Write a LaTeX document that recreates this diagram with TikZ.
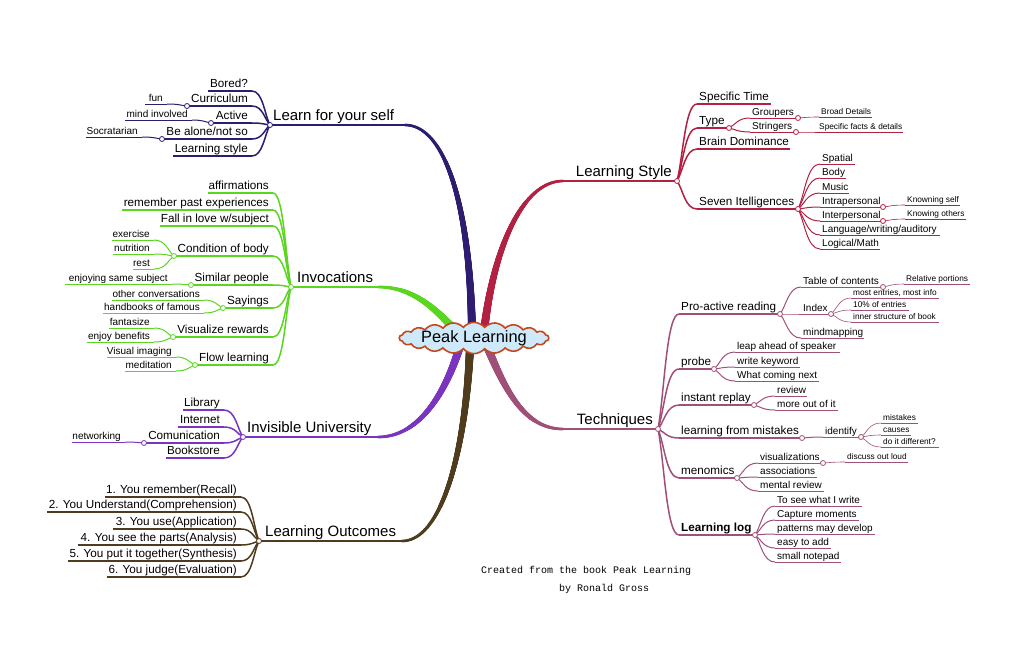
\documentclass[tikz,border=0pt]{standalone}
\usepackage{fontspec}
\setmainfont{Liberation Sans}
\newfontfamily\monofont{Liberation Mono}
\usetikzlibrary{calc,shapes.symbols,decorations.markings}
\definecolor{cNavy}{RGB}{46,28,112}
\definecolor{cGreen}{RGB}{90,214,32}
\definecolor{cPurple}{RGB}{122,52,190}
\definecolor{cBrown}{RGB}{78,60,28}
\definecolor{cCrimson}{RGB}{178,32,66}
\definecolor{cMauve}{RGB}{160,80,120}
\definecolor{cCloud}{RGB}{206,234,250}
\definecolor{cCloudLine}{RGB}{196,72,30}
% left child: name, line style, text style, x start, x end, y, text
\newcommand\KL[7]{\coordinate (#1-s) at (#4,#6);\coordinate (#1-e) at (#5,#6);
  \draw[#2] (#1-s) -- (#1-e);
  \node[#3,anchor=base east,xshift=-4pt] (#1) at (#1-e) {#7};}
% right child
\newcommand\KR[7]{\coordinate (#1-s) at (#4,#6);\coordinate (#1-e) at (#5,#6);
  \draw[#2] (#1-s) -- (#1-e);
  \node[#3,anchor=base west,xshift=2pt] (#1) at (#1-s) {#7};}
\newcommand\HD[2]{\node[hubdot,draw=#2] (#1-dot) at (#1) {};}
\begin{document}
\begin{tikzpicture}[x=1pt,y=-1pt,
  l2/.style={line width=1.5pt},
  l3/.style={line width=1pt},
  l4/.style={line width=0.6pt},
  lm/.style={line width=2.6pt},
  t1/.style={inner sep=0pt,text=black,font=\fontsize{15}{18}\selectfont,yshift=4.5pt},
  t2/.style={inner sep=0pt,text=black,font=\fontsize{11.7}{14}\selectfont,yshift=3.4pt},
  t3/.style={inner sep=0pt,text=black,font=\fontsize{10}{12}\selectfont,yshift=2.8pt},
  t4/.style={inner sep=0pt,text=black,font=\fontsize{8.3}{10}\selectfont,yshift=2.4pt},
  hubdot/.style={circle,fill=white,inner sep=0pt,minimum size=5pt,line width=0.8pt},
  fanto/.style={to path={.. controls ($(\tikztostart)!0.6!(\tikztotarget |- \tikztostart)$) and ($(\tikztotarget)!0.3!(\tikztostart)$) .. (\tikztotarget)}},
  taperline/.style={decorate,decoration={markings,
     mark=between positions 0 and 1 step 0.4pt with {%
       \pgfmathsetmacro\rr{1.3+2.8*(\pgfkeysvalueof{/pgf/decoration/mark info/distance from start})/(\pgfdecoratedpathlength)}%
       \fill[#1] (0,0) circle[radius=\rr pt];}}}
]
\useasboundingbox[fill=white] (0,0) rectangle (1024,662);

% ---------- hubs and main branch ends
\coordinate (LY) at (270,125);  \coordinate (LYe) at (405,125);  \coordinate (LYc) at (472,333);
\coordinate (INV) at (291,287); \coordinate (INVe) at (378,287); \coordinate (INVc) at (458,333);
\coordinate (IU) at (243,437);  \coordinate (IUe) at (378,437);  \coordinate (IUc) at (460,346);
\coordinate (LO) at (259,541);  \coordinate (LOe) at (402,541);  \coordinate (LOc) at (470,346);
\coordinate (LS) at (677,181);  \coordinate (LSs) at (563,181);  \coordinate (LSc) at (484,332);
\coordinate (TQ) at (658,429);  \coordinate (TQs) at (563,429);  \coordinate (TQc) at (487,346);

% ---------- main branches
\path[taperline=cNavy] (LYe) .. controls (442,125) and (470,195) .. (LYc);
\path[taperline=cGreen] (INVe) .. controls (415,287) and (436,310) .. (INVc);
\path[taperline=cPurple] (IUe) .. controls (418,437) and (445,395) .. (IUc);
\path[taperline=cBrown] (LOe) .. controls (442,541) and (466,450) .. (LOc);
\path[taperline=cCrimson] (LSs) .. controls (522,181) and (493,250) .. (LSc);
\path[taperline=cMauve] (TQs) .. controls (526,429) and (506,393) .. (TQc);
\draw[lm,cNavy] (LY) -- (LYe);
\draw[lm,cGreen] (INV) -- (INVe);
\draw[lm,cPurple] (IU) -- (IUe);
\draw[lm,cBrown] (LO) -- (LOe);
\draw[lm,cCrimson] (LSs) -- (LS);
\draw[lm,cMauve] (TQs) -- (TQ);
\node[t1,anchor=base west,xshift=3pt] (LYt) at (LY) {Learn for your self};
\node[t1,anchor=base west,xshift=6pt] (INVt) at (INV) {Invocations};
\node[t1,anchor=base west,xshift=4pt] (IUt) at (IU) {Invisible University};
\node[t1,anchor=base west,xshift=6pt] (LOt) at (LO) {Learning Outcomes};
\node[t1,anchor=base east,xshift=-5pt] (LSt) at (LS) {Learning Style};
\node[t1,anchor=base east,xshift=-5pt] (TQt) at (TQ) {Techniques};

% ---------- Learn for your self
\begin{scope}[color=cNavy]
\KL{bored}{l2}{t2}{208}{252}{91}{Bored?}
\KL{curr}{l2}{t2}{187}{252}{106}{Curriculum}
\KL{active}{l2}{t2}{211}{252}{123}{Active}
\KL{alone}{l2}{t2}{162}{252}{139}{Be alone/not so}
\KL{lstyle}{l2}{t2}{173}{252}{156}{Learning style}
\KL{fun}{l3}{t3}{145}{167}{104}{fun}
\KL{mind}{l3}{t3}{125}{192}{120}{mind involved}
\KL{socr}{l3}{t3}{86}{142}{137}{Socratarian}
\foreach \k in {bored,curr,active,alone,lstyle} \draw[l2] (\k-e) to[fanto] (LY);
\draw[l3] (fun-e) to[fanto] (curr-s);
\draw[l3] (mind-e) to[fanto] (active-s);
\draw[l3] (socr-e) to[fanto] (alone-s);
\HD{curr-s}{cNavy}\HD{active-s}{cNavy}\HD{alone-s}{cNavy}\HD{LY}{cNavy}
\end{scope}

% ---------- Invocations
\begin{scope}[color=cGreen]
\KL{affirm}{l2}{t2}{208}{273}{193}{affirmations}
\KL{remember}{l2}{t2}{122}{273}{210}{remember past experiences}
\KL{fall}{l2}{t2}{160}{273}{226}{Fall in love w/subject}
\KL{cond}{l2}{t2}{174}{273}{256}{Condition of body}
\KL{similar}{l2}{t2}{191}{273}{285}{Similar people}
\KL{sayings}{l2}{t2}{223}{273}{308}{Sayings}
\KL{visrew}{l2}{t2}{173}{273}{337}{Visualize rewards}
\KL{flow}{l2}{t2}{195}{273}{365}{Flow learning}
\KL{exer}{l3}{t3}{112}{154}{240}{exercise}
\KL{nutr}{l3}{t3}{113}{154}{254}{nutrition}
\KL{rest}{l3}{t3}{133}{154}{269}{rest}
\KL{enjoysame}{l3}{t3}{65}{172}{284}{enjoying same subject}
\KL{otherconv}{l3}{t3}{112}{204}{300}{other conversations}
\KL{handbooks}{l3}{t3}{103}{204}{313}{handbooks of famous}
\KL{fantasize}{l3}{t3}{109}{154}{328}{fantasize}
\KL{enjoyben}{l3}{t3}{87}{154}{342}{enjoy benefits}
\KL{visimg}{l3}{t3}{107}{176}{357}{Visual imaging}
\KL{medit}{l3}{t3}{125}{176}{371}{meditation}
\foreach \k in {affirm,remember,fall,cond,similar,sayings,visrew,flow} \draw[l2] (\k-e) to[fanto] (INV);
\foreach \k in {exer,nutr,rest} \draw[l3] (\k-e) to[fanto] (cond-s);
\draw[l3] (enjoysame-e) to[fanto] (similar-s);
\foreach \k in {otherconv,handbooks} \draw[l3] (\k-e) to[fanto] (sayings-s);
\foreach \k in {fantasize,enjoyben} \draw[l3] (\k-e) to[fanto] (visrew-s);
\foreach \k in {visimg,medit} \draw[l3] (\k-e) to[fanto] (flow-s);
\HD{cond-s}{cGreen}\HD{similar-s}{cGreen}\HD{sayings-s}{cGreen}\HD{visrew-s}{cGreen}\HD{flow-s}{cGreen}\HD{INV}{cGreen}
\end{scope}

% ---------- Invisible University
\begin{scope}[color=cPurple]
\KL{library}{l2}{t2}{183}{224}{410}{Library}
\KL{internet}{l2}{t2}{178}{224}{427}{Internet}
\KL{comun}{l2}{t2}{144}{224}{443}{Comunication}
\KL{bookstore}{l2}{t2}{166}{224}{458}{Bookstore}
\KL{network}{l3}{t3}{72}{125}{442}{networking}
\foreach \k in {library,internet,comun,bookstore} \draw[l2] (\k-e) to[fanto] (IU);
\draw[l3] (network-e) to[fanto] (comun-s);
\HD{comun-s}{cPurple}\HD{IU}{cPurple}
\end{scope}

% ---------- Learning Outcomes
\begin{scope}[color=cBrown]
\KL{oa}{l2}{t2}{105}{241}{497}{1. You remember(Recall)}
\KL{ob}{l2}{t2}{47}{241}{512}{2. You Understand(Comprehension)}
\KL{oc}{l2}{t2}{113}{241}{529}{3. You use(Application)}
\KL{od}{l2}{t2}{78}{241}{545}{4. You see the parts(Analysis)}
\KL{oe}{l2}{t2}{68}{241}{561}{5. You put it together(Synthesis)}
\KL{of}{l2}{t2}{107}{241}{577}{6. You judge(Evaluation)}
\foreach \k in {oa,ob,oc,od,oe,of} \draw[l2] (\k-e) to[fanto] (LO);
\HD{LO}{cBrown}
\end{scope}

% ---------- Learning Style
\begin{scope}[color=cCrimson]
\KR{spectime}{l2}{t2}{697}{771}{104}{Specific Time}
\KR{type}{l2}{t2}{697}{729}{128}{Type}
\KR{brain}{l2}{t2}{697}{790}{149}{Brain Dominance}
\KR{seven}{l2}{t2}{697}{798}{209}{Seven Itelligences}
\KR{group}{l3}{t3}{750}{798}{118}{Groupers}
\KR{string}{l3}{t3}{750}{796}{132}{Stringers}
\KR{broad}{l4}{t4}{819}{872}{117}{Broad Details}
\KR{specfacts}{l4}{t4}{817}{903}{132}{Specific facts \& details}
\KR{spatial}{l3}{t3}{820}{855}{164}{Spatial}
\KR{body}{l3}{t3}{820}{846}{178}{Body}
\KR{music}{l3}{t3}{820}{849}{193}{Music}
\KR{intra}{l3}{t3}{820}{883}{207}{Intrapersonal}
\KR{inter}{l3}{t3}{820}{883}{221}{Interpersonal}
\KR{lang}{l3}{t3}{820}{940}{235}{Language/writing/auditory}
\KR{logic}{l3}{t3}{820}{880}{249}{Logical/Math}
\KR{kself}{l4}{t4}{905}{960}{205}{Knowning self}
\KR{kothers}{l4}{t4}{905}{966}{219}{Knowing others}
\foreach \k in {spectime,type,brain,seven} \draw[l2] (\k-s) to[fanto] (LS);
\foreach \k in {group,string} \draw[l3] (\k-s) to[fanto] (type-e);
\draw[l4] (broad-s) to[fanto] (group-e);
\draw[l4] (specfacts-s) to[fanto] (string-e);
\foreach \k in {spatial,body,music,intra,inter,lang,logic} \draw[l3] (\k-s) to[fanto] (seven-e);
\draw[l4] (kself-s) to[fanto] (intra-e);
\draw[l4] (kothers-s) to[fanto] (inter-e);
\HD{type-e}{cCrimson}\HD{group-e}{cCrimson}\HD{string-e}{cCrimson}\HD{seven-e}{cCrimson}
\HD{intra-e}{cCrimson}\HD{inter-e}{cCrimson}\HD{LS}{cCrimson}
\end{scope}

% ---------- Techniques
\begin{scope}[color=cMauve]
\KR{pro}{l2}{t2}{679}{780}{314}{Pro-active reading}
\KR{probe}{l2}{t2}{679}{714}{369}{probe}
\KR{instant}{l2}{t2}{679}{754}{405}{instant replay}
\KR{lfm}{l2}{t2}{679}{802}{438}{learning from mistakes}
\KR{menom}{l2}{t2}{679}{737}{478}{menomics}
\KR{llog}{l2}{t2,font=\fontsize{11.7}{14}\selectfont\bfseries}{679}{755}{535}{Learning log}
\KR{toc}{l3}{t3}{801}{883}{287}{Table of contents}
\KR{index}{l3}{t3}{801}{831}{314}{Index}
\KR{mindmap}{l3}{t3}{801}{864}{338}{mindmapping}
\KR{relport}{l4}{t4}{904}{970}{284}{Relative portions}
\KR{most}{l4}{t4}{851}{939}{298}{most entries, most info}
\KR{tenpc}{l4}{t4}{851}{909}{310}{10\% of entries}
\KR{inner}{l4}{t4}{851}{939}{322}{inner structure of book}
\KR{leap}{l3}{t3}{735}{840}{352}{leap ahead of speaker}
\KR{writekw}{l3}{t3}{735}{800}{367}{write keyword}
\KR{whatnext}{l3}{t3}{735}{819}{381}{What coming next}
\KR{review}{l3}{t3}{775}{807}{396}{review}
\KR{moreout}{l3}{t3}{775}{838}{410}{more out of it}
\KR{identify}{l3}{t3}{823}{861}{437}{identify}
\KR{mist}{l4}{t4}{881}{918}{423}{mistakes}
\KR{causes}{l4}{t4}{881}{911}{435}{causes}
\KR{doit}{l4}{t4}{881}{939}{447}{do it different?}
\KR{visual}{l3}{t3}{758}{823}{463}{visualizations}
\KR{discuss}{l4}{t4}{845}{908}{462}{discuss out loud}
\KR{assoc}{l3}{t3}{758}{817}{477}{associations}
\KR{mental}{l3}{t3}{758}{824}{491}{mental review}
\KR{seewrite}{l3}{t3}{775}{862}{506}{To see what I write}
\KR{capture}{l3}{t3}{775}{859}{520}{Capture moments}
\KR{patterns}{l3}{t3}{775}{875}{534}{patterns may develop}
\KR{easy}{l3}{t3}{775}{831}{548}{easy to add}
\KR{notepad}{l3}{t3}{775}{841}{562}{small notepad}
\foreach \k in {pro,probe,instant,lfm,menom,llog} \draw[l2] (\k-s) to[fanto] (TQ);
\foreach \k in {toc,index,mindmap} \draw[l3] (\k-s) to[fanto] (pro-e);
\draw[l4] (relport-s) to[fanto] (toc-e);
\foreach \k in {most,tenpc,inner} \draw[l4] (\k-s) to[fanto] (index-e);
\foreach \k in {leap,writekw,whatnext} \draw[l3] (\k-s) to[fanto] (probe-e);
\foreach \k in {review,moreout} \draw[l3] (\k-s) to[fanto] (instant-e);
\draw[l3] (identify-s) to[fanto] (lfm-e);
\foreach \k in {mist,causes,doit} \draw[l4] (\k-s) to[fanto] (identify-e);
\foreach \k in {visual,assoc,mental} \draw[l3] (\k-s) to[fanto] (menom-e);
\draw[l4] (discuss-s) to[fanto] (visual-e);
\foreach \k in {seewrite,capture,patterns,easy,notepad} \draw[l3] (\k-s) to[fanto] (llog-e);
\HD{pro-e}{cMauve}\HD{toc-e}{cMauve}\HD{index-e}{cMauve}\HD{probe-e}{cMauve}\HD{instant-e}{cMauve}
\HD{lfm-e}{cMauve}\HD{identify-e}{cMauve}\HD{menom-e}{cMauve}\HD{visual-e}{cMauve}\HD{llog-e}{cMauve}\HD{TQ}{cMauve}
\end{scope}

% ---------- center
\node[cloud,cloud puffs=22,cloud puff arc=100,cloud ignores aspect,draw=cCloudLine,fill=cCloud,
  line width=1.6pt,minimum width=146pt,minimum height=27pt,inner sep=0pt,
  font=\fontsize{16.4}{19}\selectfont] (peak) at (474,338) {Peak Learning};

% ---------- footer
\node[inner sep=0pt,anchor=base west,font=\monofont\fontsize{10}{12}\selectfont] (foota) at (481,573) {Created from the book Peak Learning};
\node[inner sep=0pt,anchor=base west,font=\monofont\fontsize{10}{12}\selectfont] (footb) at (559,591) {by Ronald Gross};
\end{tikzpicture}
\end{document}
